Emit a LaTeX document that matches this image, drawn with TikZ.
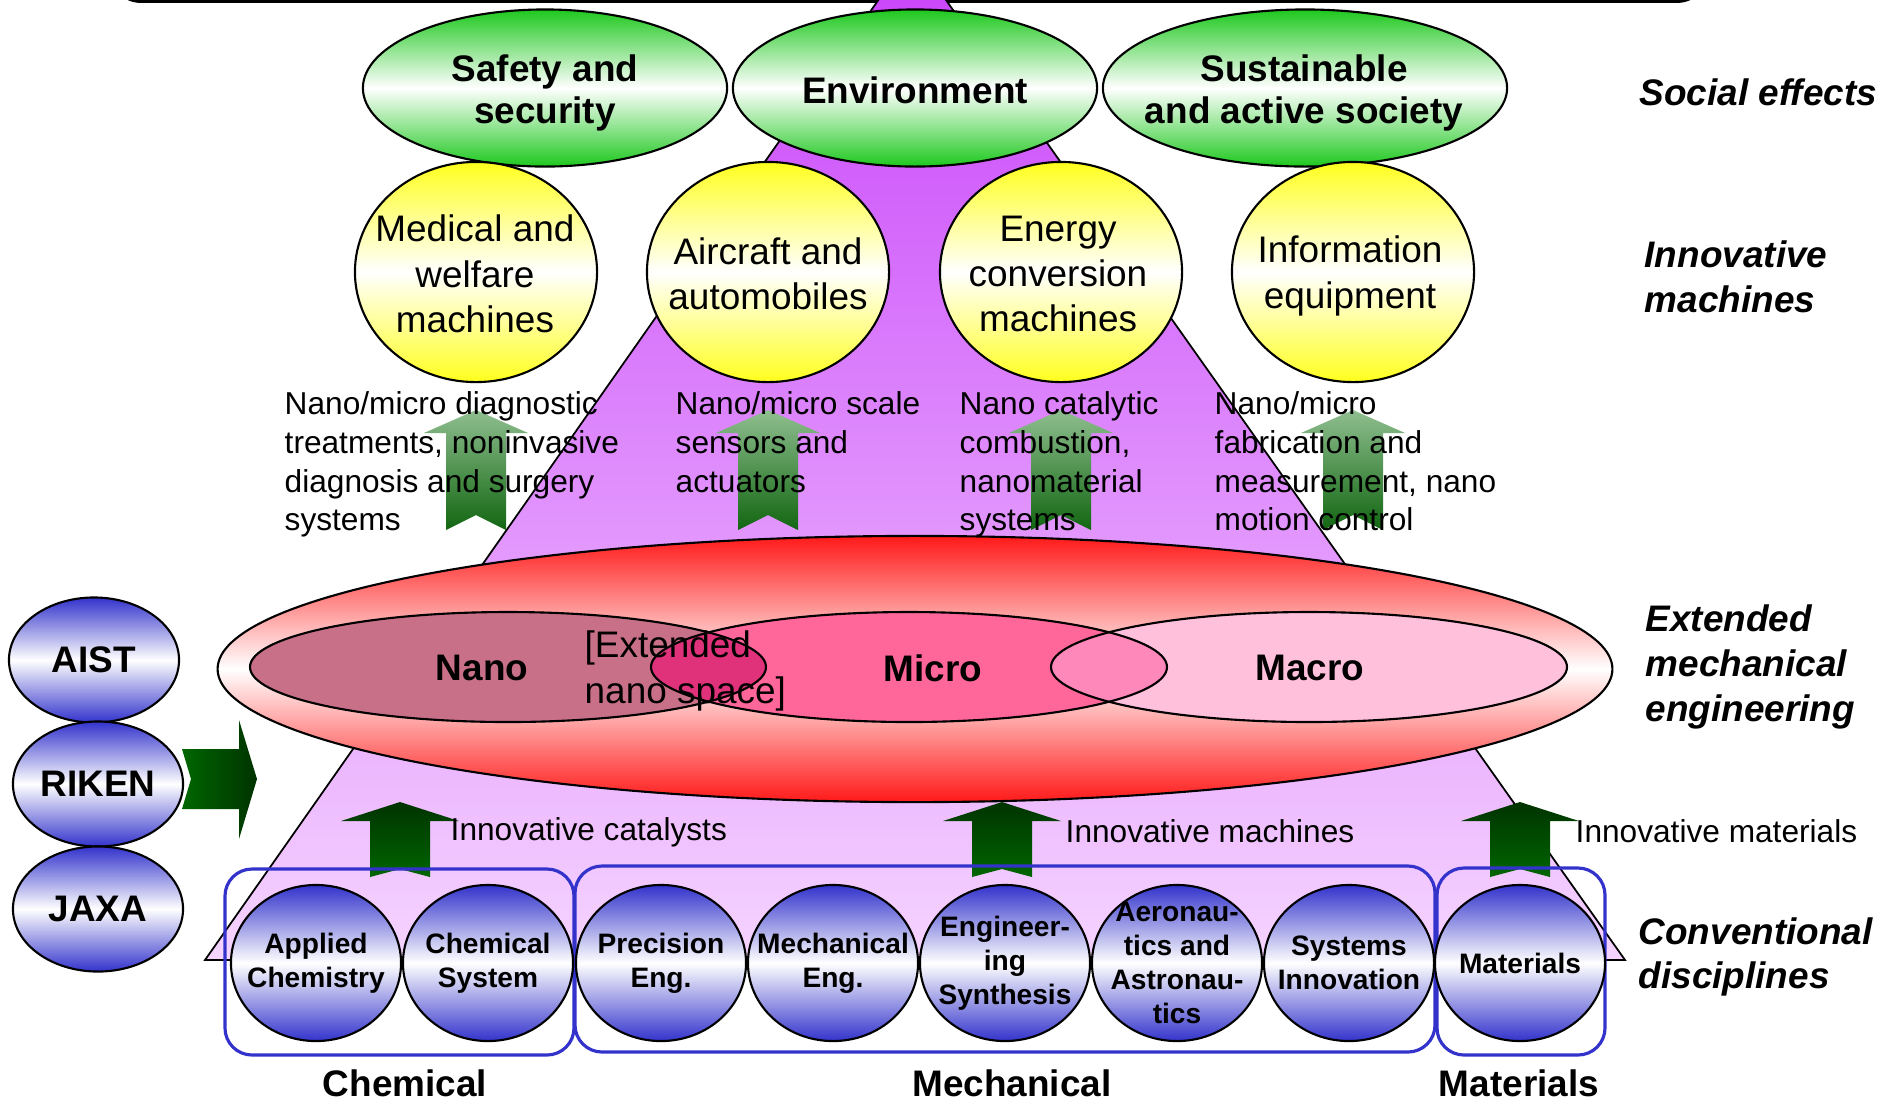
\documentclass[tikz,border=0pt]{standalone}
\usepackage{fontspec}
\setmainfont{Liberation Sans}
\usetikzlibrary{shapes.geometric}
\definecolor{pyrtop}{RGB}{200,65,250}
\definecolor{pyrbot}{RGB}{245,212,255}
\definecolor{socgreen}{RGB}{30,200,30}
\definecolor{machyellow}{RGB}{255,255,30}
\definecolor{extred}{RGB}{255,25,25}
\definecolor{discblue}{RGB}{51,51,204}
\definecolor{nanopink}{RGB}{200,112,135}
\definecolor{micropink}{RGB}{255,102,153}
\definecolor{macropink}{RGB}{255,192,220}
\definecolor{nanomicro}{RGB}{224,50,122}
\definecolor{micromacro}{RGB}{255,136,187}
\definecolor{arrlight}{RGB}{143,190,143}
\definecolor{arrmid}{RGB}{17,102,17}
\definecolor{arrdark}{RGB}{0,51,0}
\definecolor{arrgreen}{RGB}{0,102,0}

\begin{document}
\begin{tikzpicture}[x=0.01cm, y=-0.01cm,
    blob/.style={ellipse, draw, line width=0.6pt, inner sep=0pt},
    social/.style={blob, top color=socgreen, bottom color=socgreen, middle color=white,
                   minimum height=1.57cm},
    machine/.style={blob, top color=machyellow, bottom color=machyellow, middle color=white,
                    minimum width=2.42cm, minimum height=2.2cm},
    inst/.style={blob, top color=discblue, bottom color=discblue, middle color=white,
                 minimum width=1.7cm, minimum height=1.25cm,
                 font=\fontsize{10.5}{12.3}\selectfont\bfseries},
    disc/.style={blob, top color=discblue, bottom color=discblue, middle color=white,
                 minimum width=1.7cm, minimum height=1.56cm},
    head/.style={font=\fontsize{10.5}{12}\selectfont\bfseries, align=center, inner sep=0pt},
    plain/.style={font=\fontsize{10.5}{12.9}\selectfont, align=center, inner sep=0pt},
    note/.style={font=\fontsize{9}{11}\selectfont, align=left, inner sep=0pt},
    disctxt/.style={font=\fontsize{8}{9.6}\selectfont\bfseries, align=center, inner sep=0pt},
    side/.style={font=\fontsize{10.5}{12.7}\selectfont\bfseries\itshape, align=left,
                 inner sep=0pt, anchor=west},
    group/.style={draw=discblue, line width=0.9pt, rounded corners=0.27cm},
    liftarr/.style={top color=arrlight, bottom color=arrmid},
    basearr/.style={top color=arrdark, bottom color=arrgreen}
  ]
  \useasboundingbox (0,0) rectangle (1894,1099);
  \clip (0,0) rectangle (1894,1099);

  \draw[line width=1.1pt, rounded corners=0.3cm] (111,-80) rectangle (1707,1);

  \coordinate (apex) at (912,-48);
  \coordinate (baseL) at (205,960);
  \coordinate (baseR) at (1625,960);
  \draw[line width=0.5pt, top color=pyrtop, bottom color=pyrbot] (apex) -- (baseR) -- (baseL) -- cycle;

  \node[social, minimum width=3.64cm] (safety) at (545,88) {};
  \node[social, minimum width=3.64cm] (environment) at (915,88) {};
  \node[social, minimum width=4.04cm] (society) at (1305,88) {};
  \node[head] (safety-t) at (545,93) {Safety and\\security};
  \node[head] (environment-t) at (915,90) {Environment};
  \node[head] (society-t) at (1304,93) {Sustainable\\and active society};

  \node[machine] (medical) at (476,272) {};
  \node[machine] (aircraft) at (768,272) {};
  \node[machine] (energy) at (1061,272) {};
  \node[machine] (infoeq) at (1353,272) {};
  \node[plain] (medical-t) at (475,274) {Medical and\\welfare\\machines};
  \node[plain] (aircraft-t) at (768,274) {Aircraft and\\automobiles};
  \node[plain] (energy-t) at (1058,274) {Energy\\conversion\\machines};
  \node[plain] (infoeq-t) at (1350,276) {Information\\equipment};

  \foreach \x in {476,768,1061,1353}
    \path[liftarr] (\x,410) -- ++(52,23) -- ++(-22,0) -- ++(0,97) -- ++(-30,-15)
      -- ++(-30,15) -- ++(0,-97) -- ++(-22,0) -- cycle;

  \node[note, anchor=north west] (medical-n) at (284,391) {Nano/micro diagnostic\\treatments, noninvasive\\diagnosis and surgery\\systems};
  \node[note, anchor=north west] (aircraft-n) at (675,391) {Nano/micro scale\\sensors and\\actuators};
  \node[note, anchor=north west] (energy-n) at (959,391) {Nano catalytic\\combustion,\\nanomaterial\\systems};
  \node[note, anchor=north west] (infoeq-n) at (1214,391) {Nano/micro\\fabrication and\\measurement, nano\\motion control};

  \node[blob, top color=extred, bottom color=extred, middle color=white,
        minimum width=13.94cm, minimum height=2.66cm] (extended) at (915,669) {};
  \coordinate (nanoc) at (508,667);
  \coordinate (microc) at (909,667);
  \coordinate (macroc) at (1309,667);
  \fill[nanopink] (nanoc) ellipse [x radius=258, y radius=55];
  \fill[micropink] (microc) ellipse [x radius=258, y radius=55];
  \fill[macropink] (macroc) ellipse [x radius=258, y radius=55];
  \begin{scope}
    \clip (nanoc) ellipse [x radius=258, y radius=55];
    \fill[nanomicro] (microc) ellipse [x radius=258, y radius=55];
  \end{scope}
  \begin{scope}
    \clip (microc) ellipse [x radius=258, y radius=55];
    \fill[micromacro] (macroc) ellipse [x radius=258, y radius=55];
  \end{scope}
  \foreach \c in {nanoc,microc,macroc}
    \draw[line width=0.6pt] (\c) ellipse [x radius=258, y radius=55];
  \node[head] (nano) at (482,668) {Nano};
  \node[head] (micro) at (933,668) {Micro};
  \node[head] (macro) at (1310,668) {Macro};
  \node[plain, align=left, anchor=west] (extnano) at (584,671) {[Extended\\nano space]};

  \node[inst] (aist) at (94,660) {AIST};
  \node[inst] (riken) at (98,784) {RIKEN};
  \node[inst] (jaxa) at (98,909) {JAXA};
  \path[left color=arrgreen, right color=arrdark] (182,749) -- (239,749) -- (239,720) -- (257,779)
    -- (239,839) -- (239,809) -- (182,809) -- (191,779) -- cycle;

  \foreach \x in {400,1002,1520}
    \path[basearr] (\x,802) -- ++(59,19) -- ++(-29,0) -- ++(0,56) -- ++(-30,-8)
      -- ++(-30,8) -- ++(0,-56) -- ++(-29,0) -- cycle;
  \node[note, anchor=west] (catalysts) at (450,832) {Innovative catalysts};
  \node[note, anchor=west] (machines) at (1065,831) {Innovative machines};
  \node[note, anchor=west] (materials) at (1575,831) {Innovative materials};

  \draw[group] (225,869) rectangle (574,1055);
  \draw[group] (575,866) rectangle (1435,1052);
  \draw[group] (1437,868) rectangle (1605,1055);

  \foreach \x/\name/\txt in {316/applchem/{Applied\\Chemistry}, 488/chemsys/{Chemical\\System},
      661/precision/{Precision\\Eng.}, 833/mecheng/{Mechanical\\Eng.},
      1005/engsyn/{Engineer-\\ing\\Synthesis}, 1177/aero/{Aeronau-\\tics and\\Astronau-\\tics},
      1349/sysinno/{Systems\\Innovation}, 1520/matl/{Materials}} {
    \node[disc] (\name) at (\x,963) {};
    \node[disctxt] (\name-t) at (\name) {\txt};
  }

  \node[head] (chemical) at (405,1083) {Chemical};
  \node[head] (mechanical) at (1012,1083) {Mechanical};
  \node[head] (materialsgrp) at (1519,1083) {Materials};

  \node[side] (socialfx) at (1639,92) {Social effects};
  \node[side] (innomach) at (1644,277) {Innovative\\machines};
  \node[side] (extmech) at (1645,667) {Extended\\mechanical\\engineering};
  \node[side] (convdisc) at (1638,957) {Conventional\\disciplines};
\end{tikzpicture}
\end{document}
